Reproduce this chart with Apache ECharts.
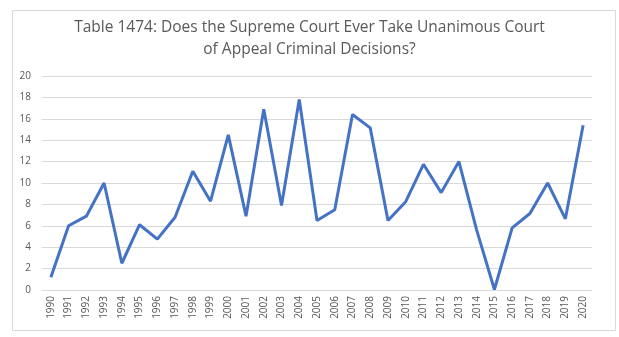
<!DOCTYPE html>
<html>
<head>
<meta charset="utf-8">
<script src="https://cdn.jsdelivr.net/npm/echarts@6/dist/echarts.min.js"></script>
<style>html,body{margin:0;padding:0;background:#fff;}#c{width:619px;height:337px;}</style>
</head>
<body>
<div id="c"></div>
<script>
var years = ['1990','1991','1992','1993','1994','1995','1996','1997','1998','1999','2000','2001','2002','2003','2004','2005','2006','2007','2008','2009','2010','2011','2012','2013','2014','2015','2016','2017','2018','2019','2020'];
var values = [1.2, 6.0, 6.9, 10.0, 2.5, 6.1, 4.75, 6.8, 11.1, 8.3, 14.5, 6.9, 16.9, 7.9, 17.8, 6.5, 7.5, 16.4, 15.15, 6.5, 8.25, 11.75, 9.1, 12.0, 5.6, 0.05, 5.8, 7.15, 10.0, 6.65, 15.4];
var titleText = 'Table 1474: Does the Supreme Court Ever Take Unanimous Court\nof Appeal Criminal Decisions?';

var chart = echarts.init(document.getElementById('c'));
chart.setOption({
  animation: false,
  backgroundColor: '#fff',
  graphic: [{
    type: 'rect', left: 10, top: 8,
    shape: { width: 603, height: 320 },
    style: { fill: 'none', stroke: '#d9d9d9', lineWidth: 1 }
  }],
  title: {
    text: titleText, left: 'center', top: 12,
    textStyle: { fontFamily: 'Open Sans', fontSize: 15.5, fontWeight: 'normal', color: '#595959', lineHeight: 22 }
  },
  grid: { left: 42, right: 27, top: 76, bottom: 47 },
  xAxis: {
    type: 'category', data: years, boundaryGap: true,
    axisLine: { show: true, lineStyle: { color: '#d9d9d9' } },
    axisTick: { show: false },
    axisLabel: { rotate: 90, interval: 0, fontSize: 10, color: '#595959', fontFamily: 'Open Sans', margin: 6 }
  },
  yAxis: {
    type: 'value', min: 0, max: 20, interval: 2,
    axisLine: { show: false }, axisTick: { show: false },
    splitLine: { lineStyle: { color: '#d9d9d9' } },
    axisLabel: { fontSize: 10, color: '#595959', fontFamily: 'Open Sans', margin: 11 }
  },
  series: [{
    type: 'line', data: values, symbol: 'none',
    lineStyle: { color: '#4472C4', width: 3 }
  }]
});
</script>
</body>
</html>
